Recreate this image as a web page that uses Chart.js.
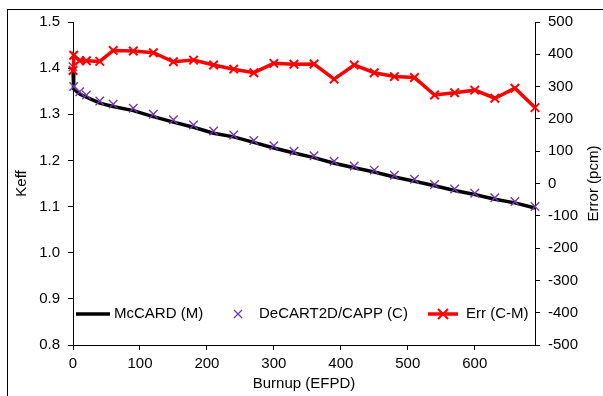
<!DOCTYPE html>
<html>
<head>
<meta charset="utf-8">
<script src="https://cdn.jsdelivr.net/npm/chart.js@4"></script>
<style>
  body { margin: 0; background: #fff; }
  canvas { display: block; }
</style>
</head>
<body>
<canvas id="burnupChart" width="603" height="396"></canvas>
<script>
const burnup = [0, 1, 10, 20, 40, 60, 90, 120, 150, 180, 210, 240, 270, 300, 330, 360, 390, 420, 450, 480, 510, 540, 570, 600, 630, 660, 690];
const keffMcCARD = [1.398, 1.355, 1.344, 1.337, 1.324, 1.317, 1.308, 1.295, 1.283, 1.272, 1.259, 1.251, 1.239, 1.227, 1.216, 1.206, 1.194, 1.184, 1.175, 1.164, 1.155, 1.145, 1.135, 1.126, 1.116, 1.108, 1.097];
const keffDeCART = [1.403, 1.360, 1.349, 1.342, 1.329, 1.322, 1.313, 1.300, 1.288, 1.277, 1.264, 1.255, 1.243, 1.232, 1.220, 1.210, 1.198, 1.188, 1.179, 1.168, 1.159, 1.148, 1.138, 1.129, 1.119, 1.111, 1.100];
const errPcm = [350, 397, 380, 380, 378, 412, 410, 405, 377, 382, 367, 354, 343, 372, 369, 370, 323, 367, 343, 331, 328, 274, 281, 289, 264, 295, 235];
const xTicks = [0, 100, 200, 300, 400, 500, 600];

const FONT = '15px "Liberation Sans", Arial, sans-serif';
const PURPLE = '#7038b0';
const RED = '#ff0000';

const toPoints = (ys) => burnup.map((x, i) => ({ x: x, y: ys[i] }));

// frame, axis titles and the legend that sits inside the plot
const decorations = {
  id: 'decorations',
  beforeDraw(chart) {
    const c = chart.ctx;
    c.save();
    c.fillStyle = '#fff';
    c.fillRect(0, 0, chart.width, chart.height);
    c.strokeStyle = '#000';
    c.lineWidth = 1;
    c.strokeRect(7.5, 9.5, 700, 500);
    c.restore();
  },
  afterDraw(chart) {
    const c = chart.ctx;
    const a = chart.chartArea;
    const midY = (a.top + a.bottom) / 2;
    c.save();
    c.font = FONT;
    c.fillStyle = '#000';
    c.textAlign = 'center';
    c.textBaseline = 'middle';
    c.fillText('Burnup (EFPD)', (a.left + a.right) / 2, 384);

    c.save();
    c.translate(22, midY);
    c.rotate(-Math.PI / 2);
    c.fillText('Keff', 0, 0);
    c.restore();

    c.save();
    c.translate(594, midY);
    c.rotate(-Math.PI / 2);
    c.fillText('Error (pcm)', 0, 0);
    c.restore();

    // legend
    const ds = chart.data.datasets;
    const y = 314;
    c.textAlign = 'left';
    c.lineCap = 'butt';

    c.strokeStyle = '#000';
    c.lineWidth = 3.5;
    c.beginPath(); c.moveTo(76, y); c.lineTo(110, y); c.stroke();
    c.fillText(ds[0].label, 114, y);

    c.strokeStyle = PURPLE;
    c.lineWidth = 1.3;
    c.beginPath();
    c.moveTo(234, y - 4); c.lineTo(242, y + 4);
    c.moveTo(242, y - 4); c.lineTo(234, y + 4);
    c.stroke();
    c.fillText(ds[1].label, 259, y);

    c.strokeStyle = RED;
    c.lineWidth = 3.5;
    c.beginPath(); c.moveTo(428, y); c.lineTo(458, y); c.stroke();
    c.lineWidth = 2;
    c.beginPath();
    c.moveTo(438, y - 5); c.lineTo(448, y + 5);
    c.moveTo(448, y - 5); c.lineTo(438, y + 5);
    c.stroke();
    c.fillText(ds[2].label, 466, y);
    c.restore();
  }
};

const tickFont = { family: '"Liberation Sans", Arial, sans-serif', size: 15 };

new Chart(document.getElementById('burnupChart').getContext('2d'), {
  type: 'line',
  data: {
    datasets: [
      {
        label: 'McCARD (M)',
        data: toPoints(keffMcCARD),
        borderColor: '#000',
        borderWidth: 3.5,
        pointRadius: 0,
        tension: 0,
        yAxisID: 'y',
        order: 3,
        clip: false,
      },
      {
        label: 'DeCART2D/CAPP (C)',
        data: toPoints(keffDeCART),
        showLine: false,
        pointStyle: 'crossRot',
        pointRadius: 6,
        pointBorderWidth: 1.4,
        borderColor: PURPLE,
        backgroundColor: PURPLE,
        yAxisID: 'y',
        order: 2,
        clip: false,
      },
      {
        label: 'Err (C-M)',
        data: toPoints(errPcm),
        borderColor: RED,
        backgroundColor: RED,
        borderWidth: 3.5,
        pointStyle: 'crossRot',
        pointRadius: 6,
        pointBorderWidth: 2,
        tension: 0,
        yAxisID: 'y2',
        order: 1,
        clip: false,
      },
    ],
  },
  options: {
    responsive: false,
    devicePixelRatio: 1,
    animation: false,
    layout: { padding: { top: 22, left: 0, right: 0, bottom: 0 } },
    plugins: {
      legend: { display: false },
      tooltip: { enabled: false },
    },
    scales: {
      x: {
        type: 'linear',
        min: 0,
        max: 690,
        afterFit: (s) => { s.height = 51; },
        afterBuildTicks: (s) => { s.ticks = xTicks.map((v) => ({ value: v })); },
        border: { display: true, color: '#000', width: 1 },
        grid: { drawOnChartArea: false, tickLength: 5, tickColor: '#000' },
        ticks: { color: '#000', font: tickFont, padding: 5, maxRotation: 0, autoSkip: false },
      },
      y: {
        position: 'left',
        min: 0.8,
        max: 1.5,
        afterFit: (s) => { s.width = 73; },
        border: { display: true, color: '#000', width: 1 },
        grid: { drawOnChartArea: false, tickLength: 5, tickColor: '#000' },
        ticks: { stepSize: 0.1, color: '#000', font: tickFont, padding: 8 },
      },
      y2: {
        position: 'right',
        min: -500,
        max: 500,
        afterFit: (s) => { s.width = 68; },
        border: { display: true, color: '#000', width: 1 },
        grid: { drawOnChartArea: false, tickLength: 5, tickColor: '#000' },
        ticks: { stepSize: 100, color: '#000', font: tickFont, padding: 8 },
      },
    },
  },
  plugins: [decorations],
});
</script>
</body>
</html>
